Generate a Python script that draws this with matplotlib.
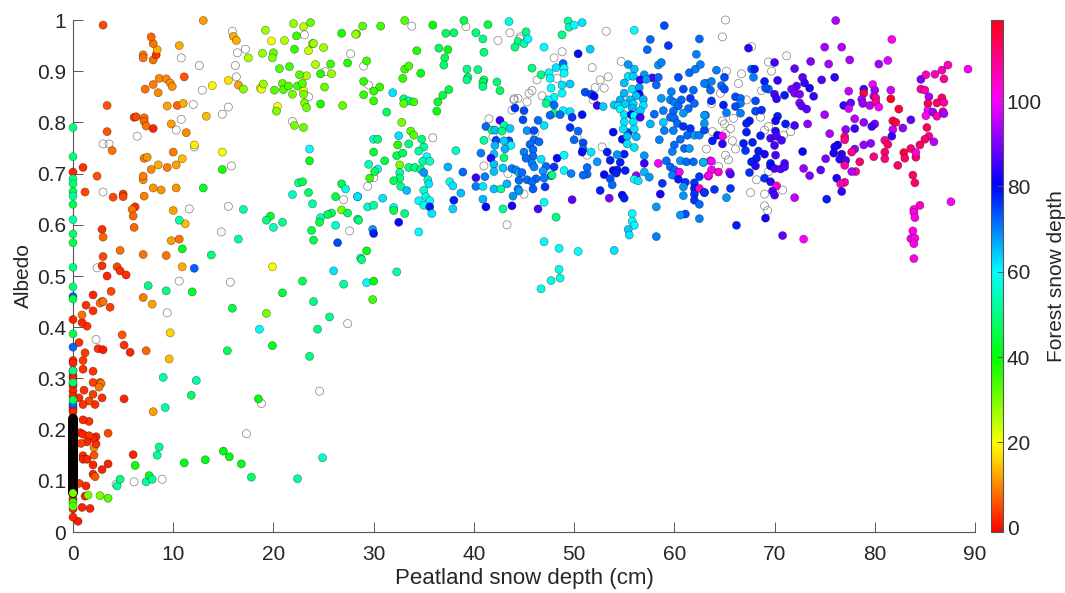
import numpy as np
import matplotlib
matplotlib.use('Agg')
import matplotlib.pyplot as plt
from matplotlib.cm import ScalarMappable
from matplotlib.colors import Normalize

plt.rcParams['font.family'] = ['Liberation Sans', 'DejaVu Sans']

# (peatland depth, albedo, forest depth)
low_left = [
(3.0,.99,5),(3.4,.833,6),(3.4,.782,6),(3.9,.745,8),(1.0,.712,3),(0,.703,2),(2.4,.695,6),(1.2,.664,5),(4.0,.654,5),(5.0,.66,3),(5,.655,5),(6.2,.635,3),(5.9,.63,8),(6,.617,7),(6.1,.595,7),(2.9,.591,3),(3,.576,7),(4.7,.55,8),(3,.538,5),(2.9,.52,3),(4.4,.518,5),(4.7,.51,3),(5.3,.502,3),(3.4,.5,2),(3.8,.47,5),(2,.463,2),(2.9,.45,5),(7,.542,8),(9.3,.54,8),(10.6,.572,8),(9.8,.569,12),(10,.628,12),(11.2,.602,14),(7.1,.656,9),(7,.688,10),(7,.695,9),(8,.672,11),(8.8,.668,11),(10.3,.672,11),(7.8,.708,10),(8.5,.717,13),(9.4,.712,9),(10.3,.717,12),(10.9,.729,14),(10,.742,9),(7.1,.73,9),(7.4,.732,11),(12.1,.756,18),(6.1,.81,4),(6.3,.811,5),(7.1,.809,8),(7.1,.802,7),(7.3,.793,8),(8,.788,2),(9.8,.797,12),(11.3,.78,10),(9.4,.832,12),(10.4,.833,7),(11,.837,13),(13.3,.812,14),(7.2,.865,8),(8,.874,9),(8.5,.858,10),(8.6,.886,10),(9.3,.885,10),(9.7,.877,11),(9.9,.87,11),(11.1,.889,6),(7,.932,9),(7,.926,8),(8,.922,8),(8.3,.932,3),(8.4,.942,13),(8,.954,8),(7.8,.967,7),(10.6,.95,13),(13,.999,12),(16,.968,13),(16.3,.96,13),(15.5,.882,17),(16.5,.873,12),(13.9,.872,19),(14.9,.742,20),(18.7,.867,19),(18.8,.865,21),(23,.862,20),(20.4,.831,20),(19.8,.959,20),(23,.987,25),(23.5,.94,24),
(19.9,.518,20),(12.1,.515,73),(10.9,.518,13),(7,.458,9),
]
top_green = [
(19.2,.98,27),(21.1,.96,26),(22,.993,28),(23.7,.995,32),(22.3,.969,35),(22.1,.943,36),(23.9,.954,30),(24,.954,28),(25,.946,27),(24.2,.913,26),(25.7,.914,35),(27.4,.916,37),(24.7,.895,37),(25.8,.895,28),(23.3,.891,26),(22.6,.893,33),(20.6,.905,34),(21.6,.909,35),(18.9,.935,28),(20,.936,32),(19.9,.926,30),(17.5,.926,26),(19,.875,28),(17,.865,29),(20.1,.863,33),(20.9,.876,32),(21,.864,33),(21.5,.871,33),(21.9,.855,30),(22.4,.871,35),(22.9,.876,33),(23,.855,30),(23.1,.838,30),(23.3,.829,31),(25.1,.869,32),(24.7,.836,38),(26.9,.833,32),(20.3,.822,30),(22.1,.794,30),(23,.79,31),(26.8,.974,38),(28.3,.973,32),
(28.2,.972,28),(28.9,.988,33),(30.7,.988,35),(33.1,.999,33),(35.9,.99,40),(39,.999,45),(37.2,.974,47),(38,.975,48),(41.4,.991,45),(40.2,.975,49),(40.9,.963,50),(43.5,.997,58),(45.2,.977,50),(44.4,.958,51),(45,.954,53),(45.4,.963,60),(44.1,.947,50),(49.4,.998,52),(49.5,.986,54),(50,.99,60),(50.8,.995,62),(48.8,.971,50),(47,.947,60),(41,.937,49),(34.3,.94,37),(36.5,.945,47),(37.4,.942,41),(37.1,.926,47),(37,.912,48),(29.3,.92,35),(33.1,.904,35),(33.5,.91,34),(32.9,.886,36),(34.7,.896,40),(39.3,.904,50),(40.4,.903,50),(39.4,.888,50),(39.3,.883,50),(41,.883,48),(40.9,.878,46),(40.9,.87,50),(42.3,.879,49),(42.6,.862,47),(45.8,.906,50),(46.7,.893,50),(29,.88,36),(30.6,.869,36),(30,.861,36),(29,.854,36),(30,.842,36),(31.9,.858,62),(37.5,.864,44),(36.9,.853,45),(36.4,.84,43),(36.3,.822,40),(31.3,.82,47),(33,.846,50),(33.5,.842,52),(34,.84,35),(33,.837,32),(32.8,.8,30),(33.7,.783,33),(34,.775,33),
]
mid_green = [
(13,.672,43),(14.9,.708,38),(23.6,.748,60),(23.6,.725,42),(22.5,.682,52),(22.9,.684,45),(21.9,.659,56),(23.5,.663,47),(23.9,.641,53),(26.8,.68,45),(27.2,.67,58),(28.4,.655,62),(26.2,.655,45),(26.8,.629,30),(27.4,.623,47),(28.4,.611,54),(25.8,.623,48),(25.4,.62,46),(24.7,.614,55),(24.6,.605,45),(26.2,.599,57),(23.8,.589,46),(24,.57,45),(26.4,.565,74),(28.7,.535,52),(17,.63,54),(19.7,.617,44),(19.3,.609,50),(20,.595,55),(20.9,.605,51),(16.5,.572,53),(13.8,.541,50),(10.9,.553,42),(10.6,.609,52),(26,.51,62),(22.9,.49,46),(27,.484,52),(7.5,.481,50),(9.3,.471,50),(11.9,.469,43),(20.9,.467,44),(24,.45,50),
(32.5,.774,62),(32.4,.756,37),(33.5,.758,50),(34.8,.767,50),(35,.752,52),(34.5,.744,52),(30,.767,57),(30.4,.767,48),(30,.742,44),(32.3,.735,46),(32.9,.74,47),(35.3,.733,60),(34.9,.724,53),(35.6,.724,55),(31.1,.725,45),(32.6,.717,30),(29.5,.718,55),(33.5,.712,50),(34.1,.712,50),(34.7,.708,50),(35,.702,68),(38.2,.745,55),(37.4,.713,66),(38.9,.703,72),(30.4,.709,60),(30.1,.704,46),(29.6,.691,36),(32.6,.702,53),(32.6,.691,50),(32,.686,46),(35.4,.688,55),(35.5,.68,62),(32.7,.675,51),(33.3,.667,65),(35,.667,56),(37.6,.684,58),(37.9,.676,62),(38.7,.662,65),(35.2,.655,58),(34.5,.647,60),(35.6,.647,60),(28.4,.655,62),(30.9,.652,62),(29.4,.635,56),(30,.638,52),(32,.634,60),(32,.628,45),(33.1,.622,50),(35,.638,58),(35.6,.635,78),(35.8,.622,62),(38,.648,78),(37.9,.631,63),(28.5,.609,48),(32.5,.605,80),(29.9,.591,68),(30,.583,78),(34.5,.586,60),(29.3,.549,40),(28.8,.532,50),(32.3,.508,53),(29.3,.487,60),(30,.49,40),(29.9,.454,35),
]
bottom_left = [
(15.9,.437,45),(19.3,.427,30),(25.6,.42,51),(24.4,.396,50),(18.6,.396,60),(19.9,.364,42),(15.4,.354,46),(23.6,.343,50),(9,.302,53),(12.3,.296,52),(11.8,.267,47),(18.5,.26,41),(9.2,.243,53),(8,.235,12),(9.7,.389,16),(9.6,.338,14),(7.9,.445,12),(4.9,.385,6),(5.1,.365,3),(5.7,.351,2),(7.3,.354,7),(5.1,.26,2),(3.5,.193,5),(6,.151,2),(3.5,.133,2),(2.9,.122,2),(2,.113,2),(2.2,.108,6),(2,.131,2),(2.1,.15,6),(2.1,.165,10),(2.3,.186,2),(2.3,.172,3),(2,.183,2),(1.6,.216,3),(1,.219,2),(2.2,.249,3),(1.6,.256,5),(2,.269,4),(2.9,.262,3),(1.1,.277,3),(.6,.262,3),(1,.249,3),(2.7,.292,6),(2,.292,4),(2.8,.29,8),(2.6,.283,8),(2,.314,3),(1,.318,3),(1,.335,4),(1.2,.35,4),(2.5,.358,3),(3,.356,1),(.6,.37,3),(1.4,.402,3),(.9,.409,2),(.9,.424,8),(1.3,.443,3),(2,.432,3),(2.7,.447,8),(3,.45,8),(3.7,.439,4),
(.7,.194,2),(1,.191,2),(1.6,.188,3),(1.4,.176,2),(.8,.173,4),(1,.149,3),(1,.142,2),(1.4,.142,2),(.6,.095,4),(1.3,.09,2),(1.2,.07,2),(.9,.048,2),(1.7,.046,2),(.5,.021,1),
(1.5,.072,30),(2.7,.071,30),(3.5,.066,33),(6.2,.13,38),(4.4,.09,53),(4.7,.103,50),(7.3,.098,52),(7.6,.11,42),(7.9,.103,52),(8.4,.15,52),(8.6,.166,51),(11.1,.135,42),(13.2,.141,41),(15,.158,41),(15.6,.147,41),(16.8,.133,42),(17.8,.107,48),(22.4,.104,52),(24.9,.145,56),
]
mid_blue = [
(42.6,.804,85),(41.2,.792,72),(41.8,.785,50),(42.1,.785,65),(43,.794,52),(42.8,.783,50),(43.6,.788,64),(46.4,.804,72),(47,.794,62),(45.3,.784,68),(46,.784,74),(41,.765,52),(42.2,.765,75),(43.5,.764,74),(42.1,.755,66),(43,.764,64),(43.7,.755,60),(43.1,.748,66),(40.7,.74,70),(42,.738,65),(43,.731,50),(41.7,.73,83),(45,.742,70),(46,.766,72),(46.5,.762,72),(45.6,.757,72),(45.9,.747,72),(45.9,.734,72),(45.2,.73,72),(46.7,.728,62),(48.3,.73,80),(49,.736,60),(45.8,.72,70),(46,.713,70),(42,.718,65),(42,.704,65),(42.9,.711,64),(43.8,.71,70),(44.2,.707,70),(44.5,.702,66),(44.8,.702,72),(47.2,.714,72),(48,.713,76),(46.9,.705,68),(47.7,.696,72),(47.8,.697,50),(49,.706,60),(49.7,.7,70),(44.5,.687,72),(45.3,.688,72),(46.2,.69,72),(47,.691,70),(45.8,.684,72),(41.1,.694,70),(40.2,.692,85),(40.2,.675,70),(40.9,.675,62),(42,.67,65),(42.7,.67,52),(43.3,.68,66),(45.9,.67,73),(47.1,.674,76),(44.4,.67,70),(44.5,.666,68),(43.9,.656,68),(40.9,.65,66),(41.2,.635,80),(43.8,.637,82),(42.9,.631,52),(46.4,.631,86),(47,.644,60),(49.8,.649,88),(48.2,.615,50),(47,.567,60),(48.5,.554,60),(50.4,.548,60),(54,.55,62),(48.5,.513,58),(48.6,.496,58),(47.7,.491,58),(46.7,.475,58),
(56,.98,60),(59,.989,74),(57.6,.962,72),(59.4,.95,76),(57.3,.942,72),(62.5,.963,72),(62.2,.933,70),(51.6,.943,64),(50.4,.934,80),(48.9,.915,72),(48.2,.907,62),(49,.906,60),(49,.896,60),(47.5,.897,60),(47.6,.886,60),(48.8,.873,62),(49.6,.875,64),(47.7,.867,60),(48.8,.857,60),(48,.849,60),(47.4,.844,60),(48,.834,72),(47.2,.837,50),(48.9,.823,60),(49.6,.821,62),(48,.818,50),(47.6,.814,72),(48.6,.815,72),(49.8,.81,76),(50.8,.815,79),(45,.823,74),(44.1,.828,76),(44.9,.805,74),(51.1,.859,74),(51.7,.855,74),(52,.851,80),(52.3,.833,84),(52.9,.831,64),(49.6,.79,76),(50.4,.783,72),(50,.766,72),(50.9,.76,74),(50.9,.748,72),(50.8,.742,80),(51.7,.742,62),(52.3,.723,68),(51.3,.712,72),(51.3,.699,72),(50.9,.697,72),
(53.3,.742,78),(55,.738,78),(54.3,.737,68),(53.6,.726,78),(54.6,.722,78),(53.9,.706,80),(54.3,.707,78),(55.1,.706,78),(53,.698,80),(54.2,.701,78),(53.6,.69,74),(53.8,.678,72),(52.6,.667,78),(54.8,.658,80),(55,.652,78),(53.5,.652,90),(53.9,.781,80),(54.8,.767,80),(55.4,.78,76),
]
cyan_cluster = [
(55.4,.913,68),(56,.904,65),(55.4,.89,62),(55.9,.89,64),(57,.893,68),(56.6,.883,84),(57.8,.887,86),(58.4,.888,72),(55,.877,65),(57.2,.884,68),(55.8,.865,62),(56.5,.868,68),(58.2,.873,72),(55,.857,66),(56.5,.855,80),(56.2,.852,65),(54.6,.844,66),(55.6,.844,65),(56.9,.845,66),(54,.834,64),(54.4,.832,62),(55.1,.836,64),(55.9,.836,63),(56.9,.833,62),(54.6,.826,60),(55.8,.828,66),(56.6,.823,64),(55,.815,62),(55.7,.815,80),(56,.813,60),(56.6,.81,85),(58,.816,72),(55,.801,62),(55.9,.801,62),(57.6,.797,66),(54.9,.787,62),(56,.787,62),(55.3,.773,65),(56.2,.772,66),(55.3,.758,62),(56,.751,62),(58.5,.766,70),(57,.735,68),(57,.72,84),(58.4,.72,100),(57,.703,66),(57.5,.693,68),(56.2,.696,92),(56,.689,60),(56.4,.686,62),(58.8,.681,76),(58.6,.66,82),(58.2,.635,68),(55.8,.622,60),(55.8,.607,60),(56,.599,60),(55.4,.591,64),(55.5,.58,62),(58.2,.577,70),(58.7,.847,68),
(58.4,.912,68),(58.7,.917,70),(60.4,.888,74),(61.5,.897,72),(62.1,.904,70),(62.6,.913,70),(60.9,.865,74),(59.7,.86,70),(61.9,.863,72),(63.2,.876,72),(59.6,.844,70),(60.7,.844,72),(61.6,.847,76),(60,.839,70),(60.4,.832,72),(61.4,.827,72),(62,.837,72),(58.9,.823,70),(59.9,.822,72),(60.9,.818,68),(59.6,.81,72),(60,.808,72),(58.9,.8,64),(60.3,.798,72),(60.9,.792,76),(61.6,.788,76),(59,.784,70),(59.9,.784,70),(61.3,.775,72),(60.6,.767,72),(62,.775,68),(62.5,.775,70),(60,.756,72),(61,.749,72),(59.8,.743,70),(61.5,.749,68),(63.1,.814,70),(63,.785,74),(60.6,.725,68),(61.2,.723,72),(61.9,.723,72),(62.9,.722,68),(59.2,.725,72),(59.6,.713,72),(60,.707,72),(59.8,.697,70),(60.5,.703,100),(60.4,.689,78),(61.1,.683,76),(60.9,.674,68),(62,.682,76),(62,.671,78),(62,.66,76),(62.5,.671,105),(63,.663,78),(60.9,.657,68),(62,.648,76),(62.5,.64,72),(61.1,.621,74),(60.6,.619,68),(62.5,.612,70),(62.5,.694,76),(63.4,.695,100),(63.6,.725,100),
]
right_side = [
(76.1,.999,94),(81.7,.962,102),(75,.947,94),(76.7,.947,95),(67.4,.945,84),(77.5,.922,94),(73.6,.919,90),(75.4,.914,94),(70,.917,86),(80.4,.914,94),(81.3,.921,98),(72,.905,88),(76,.888,84),(74.7,.883,87),(72.8,.888,88),(70.3,.882,84),(69,.88,78),(73,.877,85),(73.5,.867,82),(67.7,.904,72),(68,.904,78),(67.9,.888,70),(69.4,.865,72),(69.1,.867,74),(72.2,.871,88),(71.7,.865,90),(70,.855,86),(71,.853,78),(72,.857,90),(72.5,.855,90),(73.9,.851,84),(70.2,.846,84),(72.5,.838,90),(72.7,.832,88),(73.2,.826,88),(77.4,.861,96),(76.9,.833,84),(77.6,.838,88),(77.4,.827,97),(75,.815,94),(78.9,.865,85),(78.9,.857,115),(79.8,.874,100),(80,.863,92),(79.9,.851,95),(78.7,.845,93),(78.8,.837,92),(79.5,.833,95),(80.1,.848,108),(80.1,.84,110),(80.4,.83,100),(81.6,.863,97),(81.6,.846,118),(82.4,.826,116),(84.6,.884,90),(85.1,.893,105),(86,.894,105),(86.7,.902,106),(87.3,.912,105),(89.3,.904,100),(86.9,.885,108),(84.6,.865,108),(85,.863,107),(85.4,.85,94),(86.7,.848,112),(85.3,.837,114),(86.2,.838,112),(86.9,.839,108),(85.3,.824,100),(85.8,.82,92),(86.8,.821,110),(85.1,.813,102),(86.2,.812,106),(86.9,.817,94),(81.8,.803,114),(82.1,.8,115),(83.6,.805,88),(85.2,.79,114),(78,.807,95),(78.9,.8,92),(80,.797,90),(79.7,.792,85),(81.8,.786,96),(82.8,.789,92),(77.1,.786,92),(78,.788,84),(75.5,.778,94),(73.3,.797,92),(72,.794,86),(71.1,.797,78),(77,.772,110),(77,.766,110),(81.7,.773,85),(85.4,.773,108),(85,.767,112),(85.9,.762,95),(84.5,.756,112),(81,.765,110),(81.3,.757,112),(79.6,.759,92),(78.9,.756,92),(83.6,.749,112),(82.9,.741,116),(83,.73,112),(84.1,.732,112),(84.1,.741,104),(81,.742,112),(81,.729,110),(79.9,.733,110),(82.3,.716,112),(78.5,.723,112),(78,.748,92),(77.7,.742,110),(76.3,.756,82),(76,.752,82),(75.9,.74,82),(76.7,.738,84),(76.5,.728,84),(77.1,.726,86),(77,.716,108),(75.1,.729,90),(74.6,.707,88),(72.9,.71,92),(73.5,.696,90),(78.1,.704,108),(77.7,.704,94),(83.8,.697,112),(84,.682,112),(76.2,.691,82),(77,.683,108),(76.6,.68,106),(76.7,.665,84),(72,.653,96),(75.2,.65,78),(87.6,.645,100),(84.5,.638,105),(83.9,.63,102),(83.9,.624,102),(84,.614,103),(83.8,.588,102),(83.6,.573,102),(84,.574,102),(83.9,.563,102),(83.9,.534,103),(72.9,.572,100),(70.8,.579,88),(69.1,.613,82),(66.2,.599,78),(65.2,.653,68),
(65,.888,74),(64.2,.902,70),(63.7,.88,70),(63,.876,70),(64.7,.872,72),(65,.865,74),(63.6,.863,72),(66.1,.85,74),(66.6,.847,72),(66.6,.837,70),(66.1,.831,74),(64.9,.834,78),(63.7,.842,76),(68.1,.842,74),(68.1,.822,74),(68.7,.824,76),(66.6,.818,70),(65.2,.819,70),(63,.814,68),(63,.798,68),(67.5,.803,78),(67.2,.798,78),(70.3,.812,78),(70.1,.803,82),(70.1,.783,84),(67.2,.781,78),(68.6,.774,78),(69.6,.769,86),(70.2,.773,86),(70.7,.765,86),(70,.755,86),(64.3,.775,80),(63.8,.764,78),(64.8,.773,100),(64.8,.758,84),(66.9,.759,78),(67.8,.761,78),(67.1,.745,76),(68.4,.744,78),(69,.738,82),(68.2,.73,78),(70.1,.736,86),(72.8,.743,80),(67.7,.723,78),(68.1,.715,84),(69.6,.72,78),(69.6,.715,80),(70,.71,86),(70.6,.709,88),(71,.72,86),(71,.713,86),(67.5,.702,76),(69,.691,76),(69.6,.684,84),(70.2,.676,104),(69.8,.666,86),(70,.658,86),(63.7,.724,100),(62.9,.722,66),(63.7,.707,102),(64.4,.703,104),(65.5,.703,100),(65.6,.699,86),(63.4,.696,102),(64,.669,76),(65.6,.671,76),(63,.663,76),
]
# no forest reading: (peatland depth, albedo)
no_forest = [
(15.9,.978),(23.1,.971),(10.8,.926),(12.6,.911),(16.4,.936),(17.2,.943),(16.2,.911),(16.3,.889),(12.9,.863),(23.5,.85),(25.2,.899),(27.7,.934),(12,.835),(15.5,.83),(14.9,.816),(10.8,.806),(10.3,.785),(6.4,.773),(3,.758),(3.6,.758),(12.1,.752),(15.8,.715),(3,.664),(11.6,.631),(15.5,.636),(14.8,.586),(2.4,.516),(10.6,.49),(15.7,.488),(21.9,.802),(27,.649),(27.6,.588),
(18.8,.251),(24.6,.275),(27.4,.407),(9.4,.428),(2.3,.376),(17.3,.192),(6.1,.098),(8.9,.103),(4.3,.093),
(29,.91),(29.5,.873),(33.8,.988),(39.2,.987),(42.4,.96),(43.6,.975),(44.6,.967),(44.6,.963),(53.2,.978),(48.8,.938),(48,.926),(51.8,.907),(48.3,.886),(46.3,.883),(45.8,.862),(45.5,.857),(46.8,.852),(45.3,.84),(44.4,.847),(44,.846),(44,.844),(43.8,.824),(53,.867),(53.4,.889),(52.6,.883),(52.1,.868),(51.9,.844),(54.7,.919),(35.9,.77),(41.5,.807),(41.9,.772),(41,.715),(43.4,.7),(45,.66),(43.3,.6),(29.4,.675),(30,.692),(52.8,.752),(51.3,.736),(50.3,.771),(46.1,.78),
(65.1,1.0),(64.8,.967),(67.7,.948),(71.2,.93),(69.4,.918),(69.7,.9),(65.2,.9),(66.7,.895),(66.4,.876),(68.7,.862),(64.6,.857),(63.7,.837),(69,.785),(67.2,.844),(68.6,.81),(65.9,.808),(64.8,.803),(65,.797),(65.6,.788),(65.1,.778),(63.8,.782),(65.8,.764),(66.1,.748),(63.2,.748),(65.1,.736),(65.4,.727),(64.4,.714),(69.4,.704),(68.2,.688),(67.6,.663),(69,.66),(70.8,.668),(69,.637),(69.3,.628),(71.6,.782),(70.9,.775),(69.4,.792),
]
# readings with zero peatland depth
zero_green = [.79,.733,.69,.68,.665,.656,.64,.61,.582,.565,.517,.479,.455,.387,.315,.292,.258,.076,.058,.05]
zero_green_forest = [50,49,50,48,46,52,46,52,47,45,50,49,45,45,50,48,47,30,36,33]
zero_blue = [.46,.361,.25]
zero_blue_forest = [72,72,72]
zero_red = [.415,.335,.33,.315,.305,.3,.29,.285,.275,.265,.245,.24,.235,.029,.045,.06,.065]
zero_stack = [.222,.220,.218,.216,.214,.212,.210,.208,.206,.204,.202,.200,.198,.196,.194,.192,.190,.188,.186,.184,.182,.180,.178,.176,.174,.172,.170,.168,.166,.164,.162,.160,.158,.156,.154,.152,.150,.148,.146,.144,.142,.140,.138,.136,.134,.132,.130,.128,.126,.124,.122,.120,.118,.116,.114,.112,.110,.108,.106,.104,.102,.100,.098,.096,.094,.092,.090,.088,.086,.084,.082,.080,.078,.076]

xticks = [0,10,20,30,40,50,60,70,80,90]
yticks = [0,.1,.2,.3,.4,.5,.6,.7,.8,.9,1]
ylabels = ['0','0.1','0.2','0.3','0.4','0.5','0.6','0.7','0.8','0.9','1']
cticks = [0,20,40,60,80,100]

W, H = 1065, 593
fig = plt.figure(figsize=(W/100, H/100), dpi=100)
ax = fig.add_axes([73/W, 1-532/H, 902/W, 512/H])
dark = '#262626'
axcol = '#555555'
norm = Normalize(-1, 119)
size = 34

pts = np.array(low_left + top_green + mid_green + bottom_left + mid_blue + cyan_cluster + right_side)
blank = np.array(no_forest)
ax.scatter(blank[:,0], blank[:,1], s=size, facecolors='none', edgecolors='#808080', linewidths=0.5, clip_on=False, zorder=3)
ax.scatter(pts[:,0], pts[:,1], c=pts[:,2], cmap='hsv', norm=norm, s=size, edgecolors=(0,0,0,.5), linewidths=0.4, clip_on=False, zorder=4)
# the pile-up at zero depth
ax.scatter(np.zeros(len(zero_red)), zero_red, c=np.full(len(zero_red), 2), cmap='hsv', norm=norm, s=size, edgecolors=(0,0,0,.5), linewidths=0.4, clip_on=False, zorder=4)
ax.scatter(np.zeros(len(zero_stack)), zero_stack, c=np.full(len(zero_stack), 1), cmap='hsv', norm=norm, s=size, edgecolors='k', linewidths=1.0, clip_on=False, zorder=5)
ax.scatter(np.zeros(len(zero_blue)), zero_blue, c=zero_blue_forest, cmap='hsv', norm=norm, s=size, edgecolors=(0,0,0,.5), linewidths=0.4, clip_on=False, zorder=6)
ax.scatter(np.zeros(len(zero_green)), zero_green, c=zero_green_forest, cmap='hsv', norm=norm, s=size, edgecolors=(0,0,0,.4), linewidths=0.4, clip_on=False, zorder=6)

ax.set_xlim(0, 90)
ax.set_ylim(0, 1)
ax.set_xticks(xticks)
ax.set_yticks(yticks)
ax.set_yticklabels(ylabels)
ax.spines['top'].set_visible(False)
ax.spines['right'].set_visible(False)
for s in ['left', 'bottom']:
    ax.spines[s].set_color(axcol)
    ax.spines[s].set_linewidth(0.8)
ax.tick_params(direction='in', length=7, width=0.7, color=axcol, labelcolor=dark, labelsize=15)
ax.tick_params(axis='x', pad=9)
ax.tick_params(axis='y', pad=5)
ax.set_xlabel('Peatland snow depth (cm)', fontsize=16, color=dark, labelpad=3)
ax.set_ylabel('Albedo', fontsize=15, color=dark, labelpad=3)

cax = fig.add_axes([991/W, 1-532/H, 11.5/W, 512/H])
cb = fig.colorbar(ScalarMappable(norm=norm, cmap='hsv'), cax=cax)
cb.set_ticks(cticks)
cb.ax.tick_params(direction='in', length=4, width=0.7, color=axcol, labelcolor=dark, labelsize=15, pad=3)
cb.outline.set_edgecolor(axcol)
cb.outline.set_linewidth(0.8)
cb.set_label('Forest snow depth', fontsize=15, color=dark, labelpad=4)

fig.savefig('out.png', dpi=100)
